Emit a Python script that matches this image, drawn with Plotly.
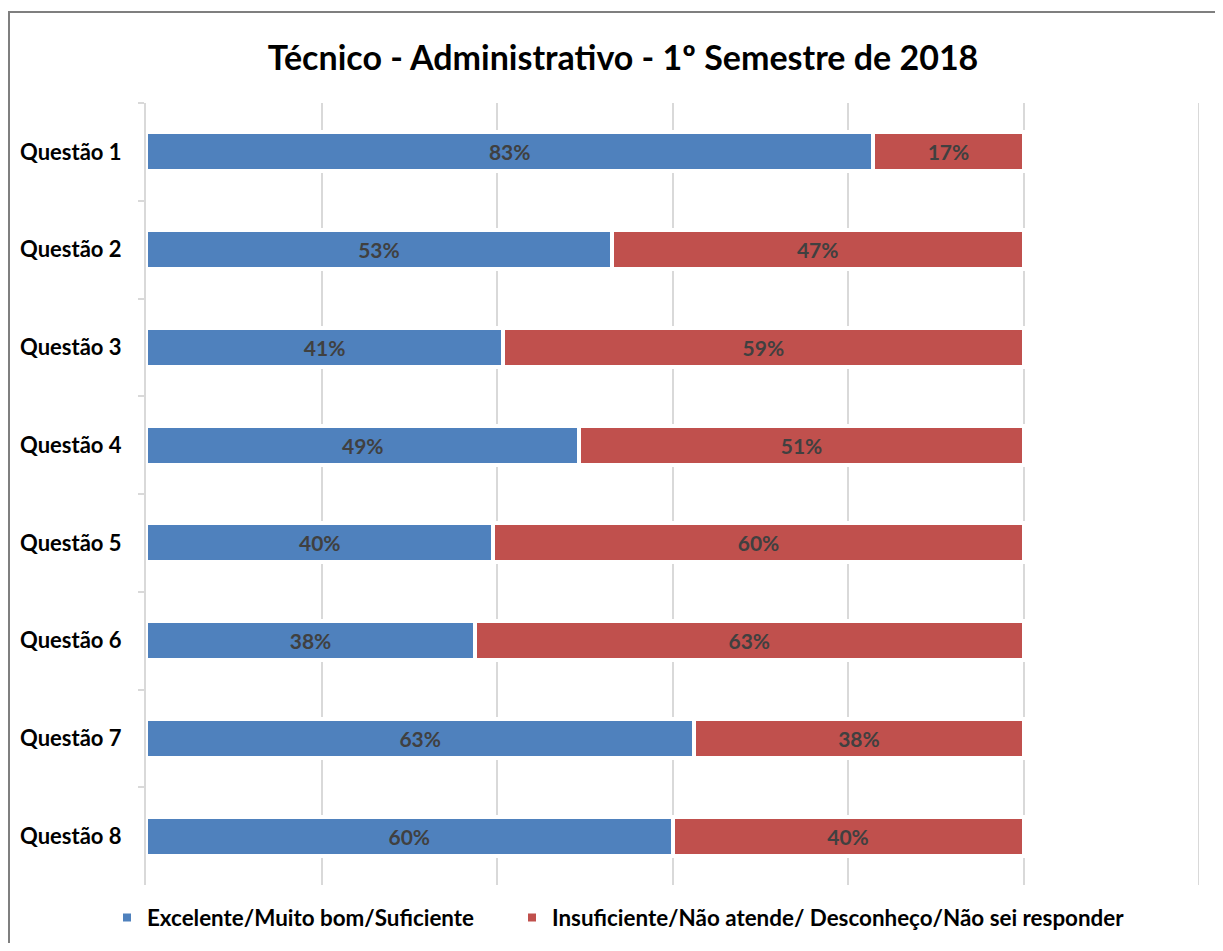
import plotly.graph_objects as go

categories = ["Questão 1", "Questão 2", "Questão 3", "Questão 4",
              "Questão 5", "Questão 6", "Questão 7", "Questão 8"]
positive = [0.829, 0.531, 0.407, 0.494, 0.396, 0.375, 0.625, 0.600]
negative = [0.171, 0.469, 0.593, 0.506, 0.604, 0.625, 0.375, 0.400]
series_names = ["Excelente/Muito bom/Suficiente",
                "Insuficiente/Não atende/ Desconheço/Não sei responder"]
colors = ["#4F81BD", "#C0504D"]
x_max = 1.2

FONT = "Lato"
W, H = 1207, 935
L, R, T, B = 138, 16, 95, 58
PW, PH = W - L - R, H - T - B

fig = go.Figure()
for i, (name, vals, col) in enumerate(zip(series_names, [positive, negative], colors)):
    fig.add_trace(go.Bar(
        y=categories, x=vals, name=name, orientation="h",
        legend="legend" if i == 0 else "legend2",
        marker=dict(color=col, line=dict(color="white", width=4)),
        texttemplate="%{x:.0%}", textposition="inside",
        insidetextanchor="middle", textangle=0, constraintext="none",
        textfont=dict(family=FONT, size=21, color="#404040", weight="bold"),
        hoverinfo="x+name",
    ))

legend_common = dict(orientation="h", xanchor="left", yanchor="middle",
                     y=-33 / PH, bgcolor="rgba(0,0,0,0)",
                     font=dict(family=FONT, size=22.4, color="black", weight="bold"),
                     itemwidth=30)

fig.update_layout(
    width=W, height=H,
    barmode="stack", bargap=0.6,
    paper_bgcolor="white", plot_bgcolor="white",
    margin=dict(l=L, r=R, t=T, b=B, autoexpand=False),
    title=dict(text="<b>Técnico - Administrativo - 1º Semestre de 2018</b>",
               x=615 / W, xanchor="center", y=1 - 50 / H, yanchor="middle",
               font=dict(family=FONT, size=34, color="black")),
    xaxis=dict(range=[0, x_max], tickvals=[0, 0.2, 0.4, 0.6, 0.8, 1.0, 1.2],
               showticklabels=False,
               showgrid=True, gridcolor="#d9d9d9", gridwidth=2,
               zeroline=False, showline=False, fixedrange=True),
    yaxis=dict(autorange="reversed", showline=True, linecolor="#d9d9d9",
               linewidth=2, ticks="outside", tickson="boundaries",
               ticklen=6, tickcolor="#d9d9d9", tickwidth=2,
               ticklabelstandoff=18, showgrid=False,
               tickfont=dict(family=FONT, size=22, color="black", weight="bold")),
    legend=dict(x=(99 - L) / PW, **legend_common),
    legend2=dict(x=(504 - L) / PW, **legend_common),
    showlegend=True,
    shapes=[
        dict(type="rect", xref="paper", yref="paper",
             x0=(1 - L) / PW, x1=(W + 20 - L) / PW,
             y0=-(B + 30) / PH, y1=(T - 4) / PH + 1,
             line=dict(color="#7f7f7f", width=2), layer="below"),
        dict(type="line", xref="x", yref="paper", x0=x_max, x1=x_max,
             y0=0, y1=1, line=dict(color="#d9d9d9", width=2), layer="below"),
    ],
)

fig.write_html("out.html")
